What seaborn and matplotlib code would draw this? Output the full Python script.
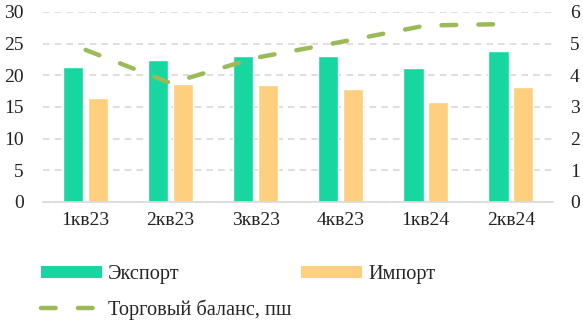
import numpy as np
import pandas as pd
import matplotlib
matplotlib.use("Agg")
import matplotlib.pyplot as plt
import seaborn as sns
from matplotlib.patches import Patch
from matplotlib.lines import Line2D

# data
quarters = ["1кв23", "2кв23", "3кв23", "4кв23", "1кв24", "2кв24"]
export = [21.3, 22.4, 23.0, 23.0, 21.1, 23.8]
imports = [16.4, 18.6, 18.4, 17.8, 15.7, 18.2]
balance = [4.8, 3.75, 4.55, 5.05, 5.57, 5.62]

green = "#17D6A0"
orange = "#FDCF7E"
olive = "#9BBB59"

sns.set_style("white")
plt.rcParams["font.family"] = ["Liberation Serif", "DejaVu Serif"]
fs = 14
lfs = 14.6

df = pd.DataFrame({
    "quarter": quarters * 2,
    "value": export + imports,
    "series": ["Экспорт"] * 6 + ["Импорт"] * 6,
})

fig = plt.figure(figsize=(5.83, 3.22), dpi=100)
ax = fig.add_axes([0.074, 0.373, 0.875, 0.59])

sns.barplot(data=df, x="quarter", y="value", hue="series",
            palette=[green, orange], width=0.58, gap=0.18,
            saturation=1, legend=False, ax=ax)

ax.set_ylim(0, 30)
ax.set_yticks(np.arange(0, 31, 5))
ax.set_xlim(-0.5, 5.5)
ax.yaxis.grid(True, linestyle=(0, (4, 3)), color="#D9D9D9", linewidth=1.2)
ax.set_axisbelow(True)
ax.set_xlabel("")
ax.set_ylabel("")
for s in ["top", "left", "right"]:
    ax.spines[s].set_visible(False)
ax.spines["bottom"].set_color("#D9D9D9")
ax.spines["bottom"].set_linewidth(1.2)
ax.tick_params(axis="x", length=0, pad=7, labelsize=fs, colors="#222222")
ax.tick_params(axis="y", length=0, pad=14, labelsize=fs, colors="#222222")

ax2 = ax.twinx()
sns.lineplot(x=np.arange(len(quarters)), y=balance, ax=ax2, color=olive,
             linewidth=3.2, dashes=False)
ax2.lines[0].set_dashes((3.3, 5))
ax2.lines[0].set_dash_capstyle("round")
ax2.set_ylim(0, 6)
ax2.set_yticks(np.arange(0, 7, 1))
for s in ["top", "left", "right", "bottom"]:
    ax2.spines[s].set_visible(False)
ax2.tick_params(axis="y", length=0, pad=12, labelsize=fs, colors="#222222")

handles = [
    Patch(facecolor=green, edgecolor="none"),
    Line2D([], [], color=olive, linewidth=3.2, dashes=(3.3, 5), dash_capstyle="round"),
    Patch(facecolor=orange, edgecolor="none"),
]
labels = ["Экспорт", "Торговый баланс, пш", "Импорт"]
fig.legend(handles, labels, ncol=2, loc="upper left",
           bbox_to_anchor=(0.056, 0.202), frameon=False, fontsize=lfs,
           handlelength=3.0, handleheight=0.5, columnspacing=0.5,
           labelspacing=0.75, handletextpad=0.3, borderaxespad=0)

fig.savefig("out.png", dpi=100)
